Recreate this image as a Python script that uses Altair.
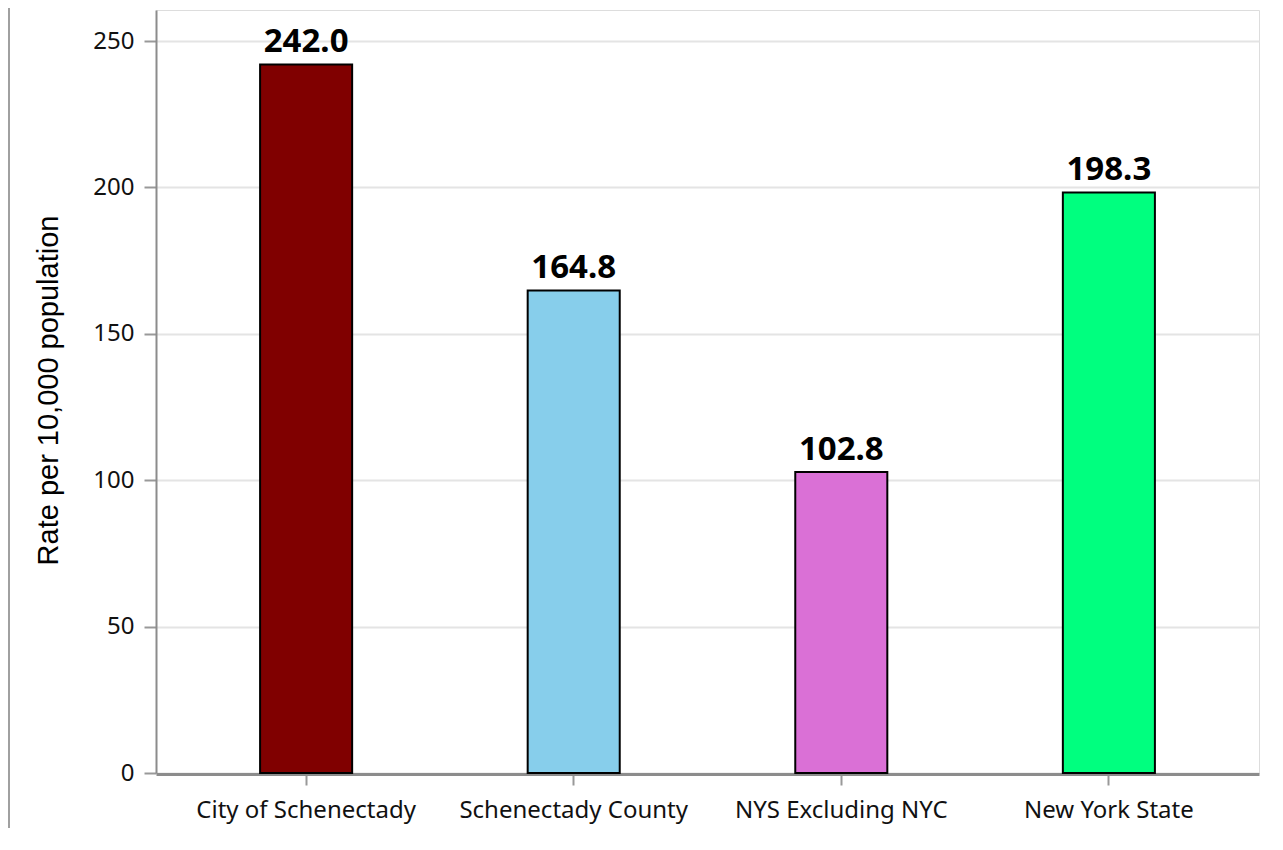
import altair as alt
import pandas as pd

categories = ["City of Schenectady", "Schenectady County", "NYS Excluding NYC", "New York State"]
rates = [242.0, 164.8, 102.8, 198.3]
colors = ["#800000", "#87CEEB", "#DA70D6", "#00FF7F"]
y_ticks = [0, 50, 100, 150, 200, 250]

df = pd.DataFrame({"cat": categories, "rate": rates, "label": [f"{v:.1f}" for v in rates]})

x_enc = alt.X("cat:N", sort=categories,
              scale=alt.Scale(paddingInner=0.656, paddingOuter=0.389),
              axis=alt.Axis(title=None, labelAngle=0, labelFont="Noto Sans", labelFontSize=24,
                            labelColor="#111111", labelPadding=13, labelLimit=0, tickSize=11, tickWidth=2,
                            tickColor="#999999", domainColor="#8c8c8c", domainWidth=3, offset=1,
                            grid=False))
y_enc = alt.Y("rate:Q", scale=alt.Scale(domain=[0, 260.6], nice=False),
              axis=alt.Axis(title="Rate per 10,000 population", values=y_ticks,
                            titleFont="Liberation Sans", titleFontSize=29, titleFontWeight="normal",
                            titleColor="#000000", titleX=-108, titleY=380, titleBaseline="middle",
                            titleAlign="center", titleAngle=270,
                            labelFont="Noto Sans", labelFontSize=24, labelColor="#111111",
                            labelPadding=10, tickSize=12, tickWidth=2, tickColor="#999999",
                            domainColor="#8c8c8c", domainWidth=2,
                            grid=True, gridColor="#e4e4e4", gridWidth=2))

bars = alt.Chart(df).mark_bar(stroke="#000000", strokeWidth=2).encode(
    x=x_enc, y=y_enc,
    color=alt.Color("cat:N", scale=alt.Scale(domain=categories, range=colors), legend=None),
)
labels = alt.Chart(df).mark_text(font="Noto Sans", fontSize=33, fontWeight="bold", color="#000000",
                                 baseline="alphabetic", dy=-12).encode(
    x=alt.X("cat:N", sort=categories), y="rate:Q", text="label:N")

frame_left = alt.Chart(df).mark_rule(color="#a0a0a0", strokeWidth=2).encode(
    x=alt.value(-147), y=alt.value(-2), y2=alt.value(820))

chart = alt.layer(bars, labels, frame_left).properties(
    width=1103, height=763,
    autosize=alt.AutoSizeParams(type="none"),
    padding={"left": 148, "top": 2, "right": 9, "bottom": 55},
).configure_view(stroke="#8c8c8c", strokeWidth=3).configure(background="white")

chart.save("out.html", embed_options={"renderer": "svg", "actions": False})
